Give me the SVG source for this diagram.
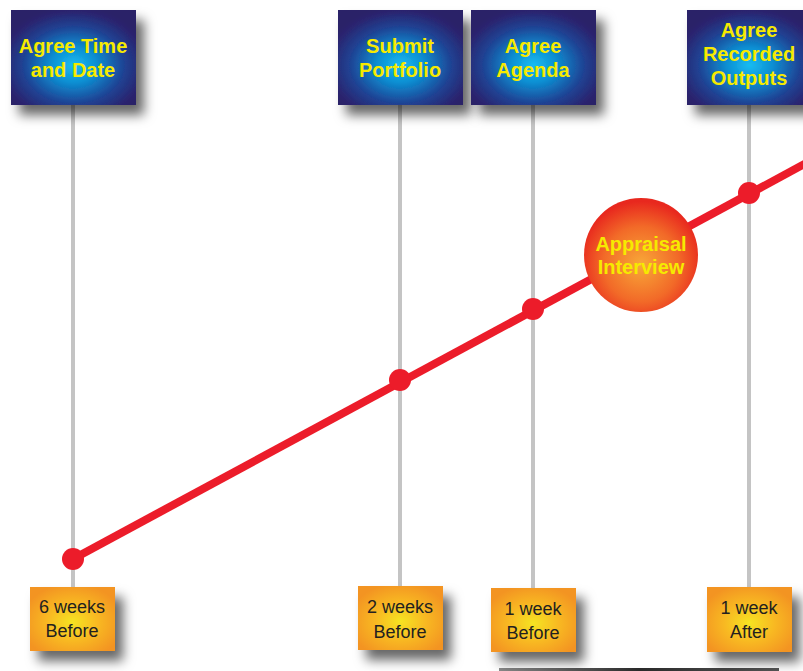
<svg xmlns="http://www.w3.org/2000/svg" width="803" height="671" viewBox="0 0 803 671">
<defs>
<radialGradient id="gBlue" cx="0.5" cy="0.58" r="0.62">
<stop offset="0" stop-color="#18bcf2"/>
<stop offset="0.3" stop-color="#0c8ed2"/>
<stop offset="0.65" stop-color="#1f4394"/>
<stop offset="0.9" stop-color="#2a2570"/>
<stop offset="1" stop-color="#2a2068"/>
</radialGradient>
<radialGradient id="gOrange" cx="0.5" cy="0.55" r="0.6">
<stop offset="0" stop-color="#f6e424"/>
<stop offset="0.5" stop-color="#f8b820"/>
<stop offset="1" stop-color="#f39420"/>
</radialGradient>
<radialGradient id="gRed" cx="0.5" cy="0.58" r="0.55">
<stop offset="0" stop-color="#f8a838"/>
<stop offset="0.6" stop-color="#f26a28"/>
<stop offset="1" stop-color="#e8281e"/>
</radialGradient>
<filter id="shadow" x="-25%" y="-25%" width="160%" height="170%">
<feDropShadow dx="8" dy="10" stdDeviation="6" flood-color="#000" flood-opacity="0.6"/>
</filter>
<linearGradient id="gBar" x1="0" y1="0" x2="1" y2="0">
<stop offset="0" stop-color="#8a8a8a"/>
<stop offset="0.5" stop-color="#2a2a2a"/>
<stop offset="1" stop-color="#555"/>
</linearGradient>
</defs>
<style>
.top rect{fill:url(#gBlue);filter:url(#shadow)}
.top text{font-family:"Liberation Sans",Arial,sans-serif;font-weight:bold;font-size:20px;fill:#f6ea00;text-anchor:middle}
.bot rect{fill:url(#gOrange);filter:url(#shadow)}
.bot text{font-family:"Liberation Sans",Arial,sans-serif;font-size:18px;fill:#231f20;text-anchor:middle}
.vline{stroke:#c4c4c4;stroke-width:4}
.dot{fill:#ec1c2a}
</style>
<rect width="803" height="671" fill="#ffffff"/>
<rect x="499" y="668" width="280" height="3" fill="url(#gBar)"/>

<g id="connectors">
<line class="vline" x1="73" y1="105" x2="73" y2="588"/>
<line class="vline" x1="400" y1="105" x2="400" y2="587"/>
<line class="vline" x1="533" y1="105" x2="533" y2="589"/>
<line class="vline" x1="749" y1="105" x2="749" y2="588"/>
<line x1="73" y1="559" x2="810" y2="161" stroke="#ec1c2a" stroke-width="8"/>
<circle class="dot" cx="73" cy="559" r="11"/>
<circle class="dot" cx="400" cy="380" r="11"/>
<circle class="dot" cx="533" cy="309" r="11"/>
<circle class="dot" cx="749" cy="193" r="11"/>
</g>

<g id="top1" class="top">
<rect x="11" y="10" width="125" height="95"/>
<text x="73" y="53">Agree Time</text>
<text x="73" y="77">and Date</text>
</g>
<g id="top2" class="top">
<rect x="338" y="10" width="125" height="95"/>
<text x="400" y="53">Submit</text>
<text x="400" y="77">Portfolio</text>
</g>
<g id="top3" class="top">
<rect x="471" y="10" width="125" height="95"/>
<text x="533" y="53">Agree</text>
<text x="533" y="77">Agenda</text>
</g>
<g id="top4" class="top">
<rect x="687" y="10" width="125" height="95"/>
<text x="749" y="37">Agree</text>
<text x="749" y="61">Recorded</text>
<text x="749" y="85">Outputs</text>
</g>

<g id="appraisal">
<circle cx="641" cy="255" r="57" fill="url(#gRed)"/>
<text x="641" y="251" font-family="Liberation Sans, Arial, sans-serif" font-weight="bold" font-size="20" fill="#f6ea00" text-anchor="middle">Appraisal</text>
<text x="641" y="274" font-family="Liberation Sans, Arial, sans-serif" font-weight="bold" font-size="20" fill="#f6ea00" text-anchor="middle">Interview</text>
</g>

<g id="bot1" class="bot">
<rect x="30" y="587" width="85" height="64"/>
<text x="72" y="613">6 weeks</text>
<text x="72" y="637">Before</text>
</g>
<g id="bot2" class="bot">
<rect x="358" y="586" width="85" height="64"/>
<text x="400" y="613">2 weeks</text>
<text x="400" y="638">Before</text>
</g>
<g id="bot3" class="bot">
<rect x="491" y="588" width="85" height="64"/>
<text x="533" y="615">1 week</text>
<text x="533" y="639">Before</text>
</g>
<g id="bot4" class="bot">
<rect x="707" y="587" width="85" height="65"/>
<text x="749" y="614">1 week</text>
<text x="749" y="638">After</text>
</g>
</svg>
